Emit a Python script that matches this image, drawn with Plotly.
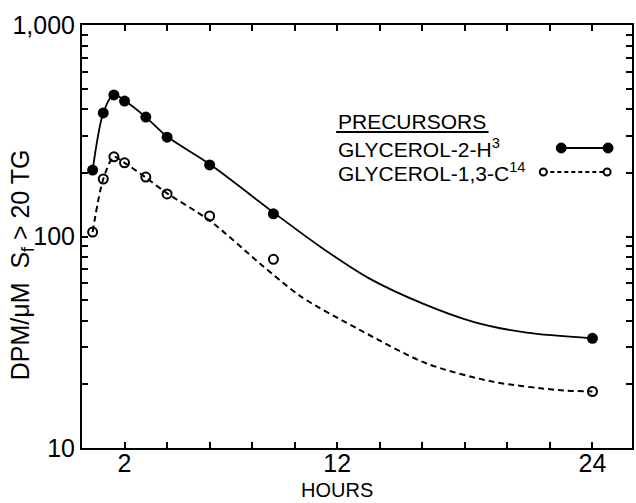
import plotly.graph_objects as go

# ---- data ----
hours = [0.5, 1, 1.5, 2, 3, 4, 6, 9, 24]
h3_values = [206, 384, 467, 437, 367, 295, 218, 128, 33]
c14_values = [105, 187, 238, 223, 191, 159, 125, 78, 18.5]

# smooth fitted curves as drawn in the figure
h3_curve_hours = [0.5, 1.0, 1.5, 2.0, 3.0, 4.0, 6.0, 9.0, 11.2, 13.5, 16.0, 18.4, 20.9, 24.0]
h3_curve_values = [206, 384, 470, 440, 367, 297, 220, 130, 89.5, 63.4, 48.3, 39.5, 35.1, 33]
c14_curve_hours = [0.5, 1.0, 1.5, 2.0, 3.0, 4.0, 6.0, 8.4, 10.3, 13.1, 16.2, 19.3, 22.4, 24.0]
c14_curve_values = [105, 187, 238, 223, 190, 160, 119, 74, 52, 36, 25.1, 20.6, 18.8, 18.5]

x_tickvals = [2, 4, 6, 8, 10, 12, 14, 16, 18, 20, 22, 24]
x_ticktext = ["2", "", "", "", "", "12", "", "", "", "", "", "24"]
y_tickvals = [10, 20, 30, 40, 50, 60, 70, 80, 90, 100, 200, 300, 400, 500, 600, 700, 800, 900, 1000]
y_ticktext = ["10", "", "", "", "", "", "", "", "", "100", "", "", "", "", "", "", "", "", "1,000"]

legend_title = "PRECURSORS"
label_h3 = "GLYCEROL-2-H<sup>3</sup>"
label_c14 = "GLYCEROL-1,3-C<sup>14</sup>"

W, H = 636, 503
ML, MR, MT, MB = 82, 2, 25, 55
PW, PH = W - ML - MR, H - MT - MB

def px(x):
    return (x - ML) / PW

def py(y):
    return (H - MB - y) / PH

FONT = "Liberation Sans, Arial, sans-serif"

fig = go.Figure()
fig.add_trace(go.Scatter(x=h3_curve_hours, y=h3_curve_values, mode="lines",
                         line=dict(color="black", width=1.8, shape="spline", smoothing=0.8),
                         hoverinfo="skip", showlegend=False))
fig.add_trace(go.Scatter(x=c14_curve_hours, y=c14_curve_values, mode="lines",
                         line=dict(color="black", width=2, dash="6px,4px", shape="spline", smoothing=0.8),
                         hoverinfo="skip", showlegend=False))
fig.add_trace(go.Scatter(x=hours, y=h3_values, mode="markers",
                         marker=dict(symbol="circle", size=11, color="black"),
                         name="GLYCEROL-2-H3", showlegend=False))
fig.add_trace(go.Scatter(x=hours, y=c14_values, mode="markers",
                         marker=dict(symbol="circle-open", size=9, color="black", line=dict(width=2)),
                         name="GLYCEROL-1,3-C14", showlegend=False))

fig.update_xaxes(range=[0, 25.86], tickvals=x_tickvals, ticktext=x_ticktext,
                 ticks="inside", ticklen=6, tickwidth=1.5, tickcolor="black",
                 showline=True, linewidth=2, linecolor="black", mirror="allticks",
                 showgrid=False, zeroline=False, ticklabelstandoff=-8,
                 tickfont=dict(family=FONT, size=25, color="black"))
fig.update_yaxes(type="log", range=[1, 3], tickvals=y_tickvals, ticktext=y_ticktext,
                 ticks="inside", ticklen=6, tickwidth=1.5, tickcolor="black",
                 showline=True, linewidth=2, linecolor="black", mirror="allticks",
                 showgrid=False, zeroline=False,
                 tickfont=dict(family=FONT, size=25, color="black"))

ann = []
ann.append(dict(text="HOURS", x=px(338), y=py(490), xref="paper", yref="paper",
                showarrow=False, xanchor="center", yanchor="middle",
                font=dict(family=FONT, size=20, color="black")))
ann.append(dict(text="DPM/\u03bcM  S<sub>f</sub> > 20 TG", x=px(22), y=py(265), xref="paper", yref="paper",
                showarrow=False, textangle=-90, xanchor="center", yanchor="middle",
                font=dict(family=FONT, size=25, color="black")))
ann.append(dict(text=legend_title, x=px(337), y=py(121), xref="paper", yref="paper",
                showarrow=False, xanchor="left", yanchor="middle",
                font=dict(family=FONT, size=21, color="black")))
ann.append(dict(text=label_h3, x=px(337), y=py(148), xref="paper", yref="paper",
                showarrow=False, xanchor="left", yanchor="middle",
                font=dict(family=FONT, size=21, color="black")))
ann.append(dict(text=label_c14, x=px(337), y=py(172), xref="paper", yref="paper",
                showarrow=False, xanchor="left", yanchor="middle",
                font=dict(family=FONT, size=21, color="black")))

shapes = []
# underline of legend title
shapes.append(dict(type="line", xref="paper", yref="paper", x0=px(337), x1=px(490), y0=py(132), y1=py(132),
                   line=dict(color="black", width=2)))
# legend glyphs
shapes.append(dict(type="line", xref="paper", yref="paper", x0=px(563), x1=px(610), y0=py(148), y1=py(148),
                   line=dict(color="black", width=1.8)))
shapes.append(dict(type="line", xref="paper", yref="paper", x0=px(545), x1=px(609), y0=py(172), y1=py(172),
                   line=dict(color="black", width=2, dash="4px,3px")))
for cx in (563, 610):
    shapes.append(dict(type="circle", xref="paper", yref="paper", xsizemode="pixel", ysizemode="pixel",
                       xanchor=px(cx), yanchor=py(148), x0=-5, x1=5, y0=-5, y1=5,
                       fillcolor="black", line=dict(color="black", width=1)))
for cx in (545, 609):
    shapes.append(dict(type="circle", xref="paper", yref="paper", xsizemode="pixel", ysizemode="pixel",
                       xanchor=px(cx), yanchor=py(172), x0=-3.5, x1=3.5, y0=-3.5, y1=3.5,
                       fillcolor="white", line=dict(color="black", width=2)))

fig.update_layout(width=W, height=H, margin=dict(l=ML, r=MR, t=MT, b=MB),
                  paper_bgcolor="white", plot_bgcolor="white",
                  annotations=ann, shapes=shapes, showlegend=False)

fig.write_html("out.html")
